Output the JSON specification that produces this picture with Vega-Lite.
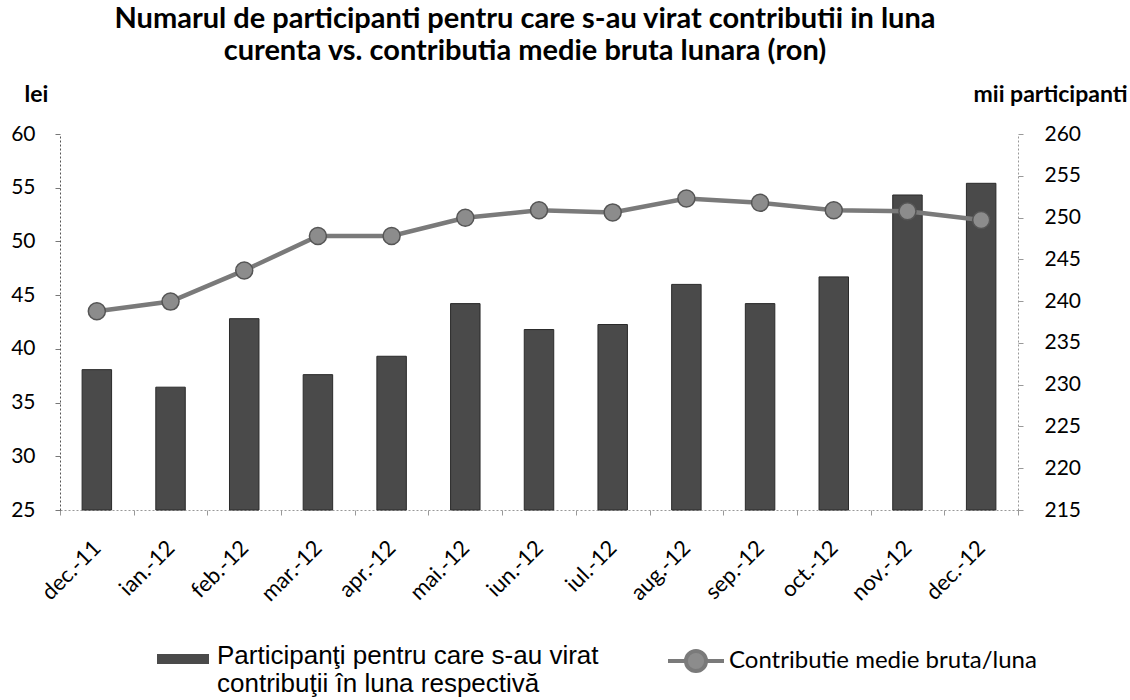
{
  "$schema": "https://vega.github.io/schema/vega-lite/v6.json",
  "width": 958,
  "height": 376,
  "autosize": {"type": "none"},
  "padding": {"left": 60, "top": 134, "right": 112, "bottom": 190},
  "background": "white",
  "config": {"view": {"stroke": null}, "font": "Lato"},
  "title": {
    "text": ["Numarul de participanti pentru care s-au virat contributii in luna", "curenta vs. contributia medie bruta lunara (ron)"],
    "font": "Lato", "fontSize": 29, "fontWeight": "bold", "color": "#000000",
    "anchor": "middle", "dx": -14, "offset": 17, "lineHeight": 32
  },
  "data": {
    "values": [
      {"luna": "dec.-11", "participanti": 231.8, "contributie": 43.5},
      {"luna": "ian.-12", "participanti": 229.7, "contributie": 44.4},
      {"luna": "feb.-12", "participanti": 237.9, "contributie": 47.3},
      {"luna": "mar.-12", "participanti": 231.2, "contributie": 50.5},
      {"luna": "apr.-12", "participanti": 233.4, "contributie": 50.5},
      {"luna": "mai.-12", "participanti": 239.7, "contributie": 52.2},
      {"luna": "iun.-12", "participanti": 236.6, "contributie": 52.9},
      {"luna": "iul.-12", "participanti": 237.2, "contributie": 52.7},
      {"luna": "aug.-12", "participanti": 242.0, "contributie": 54.0},
      {"luna": "sep.-12", "participanti": 239.7, "contributie": 53.6},
      {"luna": "oct.-12", "participanti": 242.9, "contributie": 52.9},
      {"luna": "nov.-12", "participanti": 252.7, "contributie": 52.8},
      {"luna": "dec.-12", "participanti": 254.1, "contributie": 52.0}
    ]
  },
  "encoding": {
    "x": {
      "field": "luna", "type": "nominal", "sort": null,
      "scale": {"paddingInner": 0, "paddingOuter": 0},
      "axis": {
        "title": null, "labelAngle": -45, "labelAlign": "right", "labelBaseline": "middle",
        "labelPadding": 29, "labelFont": "Lato", "labelFontSize": 22, "labelColor": "#000000",
        "labelLimit": 300, "labelOverlap": false,
        "tickBand": "extent", "tickSize": 5, "tickColor": "#999999",
        "domainColor": "#999999", "domainDash": [2, 2], "grid": false
      }
    }
  },
  "layer": [
    {
      "mark": {"type": "bar", "width": {"band": 0.4}, "stroke": "#2a2a2a", "strokeWidth": 1},
      "encoding": {
        "y": {
          "field": "participanti", "type": "quantitative",
          "scale": {"domain": [215, 260], "zero": false, "nice": false, "clamp": true},
          "axis": {
            "orient": "right", "title": "mii participanti", "values": [215, 220, 225, 230, 235, 240, 245, 250, 255, 260],
            "titleAngle": 0, "titleAlign": "right", "titleBaseline": "alphabetic", "titleX": 109, "titleY": -33,
            "titleFont": "Lato", "titleFontSize": 23, "titleFontWeight": "bold", "titleColor": "#000000",
            "labelFont": "Lato", "labelFontSize": 21, "labelColor": "#000000", "labelPadding": 21,
            "tickSize": 5, "tickColor": "#999999", "domainColor": "#999999", "domainDash": [2, 2], "grid": false
          }
        },
        "fill": {
          "datum": "Participanţi pentru care s-au virat contribuţii în luna respectivă", "type": "nominal",
          "scale": {"range": ["#4a4a4a"]},
          "legend": {
            "orient": "none", "legendX": 97, "legendY": 504, "title": null,
            "symbolType": "M-1,-0.385H1V0H-1Z", "symbolSize": 2704, "symbolStrokeWidth": 0,
            "labelExpr": "['Participanţi pentru care s-au virat', 'contribuţii în luna respectivă']",
            "labelFont": "Liberation Sans", "labelFontSize": 26, "labelBaseline": "alphabetic",
            "labelLimit": 600, "labelOffset": 8, "labelColor": "#000000",
            "encode": {"labels": {"update": {"lineHeight": {"value": 26}}}}
          }
        }
      }
    },
    {
      "encoding": {
        "y": {
          "field": "contributie", "type": "quantitative",
          "scale": {"domain": [25, 60], "zero": false, "nice": false},
          "axis": {
            "orient": "left", "title": "lei", "values": [25, 30, 35, 40, 45, 50, 55, 60],
            "titleAngle": 0, "titleAlign": "left", "titleBaseline": "alphabetic", "titleX": -36, "titleY": -33,
            "titleFont": "Lato", "titleFontSize": 23, "titleFontWeight": "bold", "titleColor": "#000000",
            "labelFont": "Lato", "labelFontSize": 21, "labelColor": "#000000", "labelPadding": 20,
            "tickSize": 5, "tickColor": "#777777", "domainColor": "#555555", "domainDash": [2, 2], "grid": false
          }
        }
      },
      "layer": [
        {
          "mark": {"type": "line", "strokeWidth": 4.5, "color": "#7a7a7a"},
          "encoding": {
            "stroke": {
              "datum": "Contributie medie bruta/luna", "type": "nominal",
              "scale": {"range": ["#7a7a7a"]},
              "legend": {
                "orient": "none", "legendX": 606, "legendY": 497, "title": null,
                "symbolType": "M-1,0H-0.36M0.36,0H1M0.36,0A0.36,0.36,0,1,1,-0.36,0A0.36,0.36,0,1,1,0.36,0Z",
                "symbolSize": 3136, "symbolStrokeWidth": 4, "symbolFillColor": "#8c8c8c",
                "labelFont": "Lato", "labelFontSize": 24, "labelBaseline": "middle",
                "labelLimit": 600, "labelOffset": 3, "labelColor": "#000000",
                "encode": {"symbols": {"update": {"fill": {"value": "#8c8c8c"}}}}
              }
            }
          }
        },
        {
          "mark": {"type": "point", "filled": true, "fill": "#8c8c8c", "stroke": "#555555", "strokeWidth": 1.5, "size": 290, "opacity": 1}
        }
      ]
    }
  ],
  "resolve": {"scale": {"y": "independent", "fill": "independent", "stroke": "independent"}}
}
